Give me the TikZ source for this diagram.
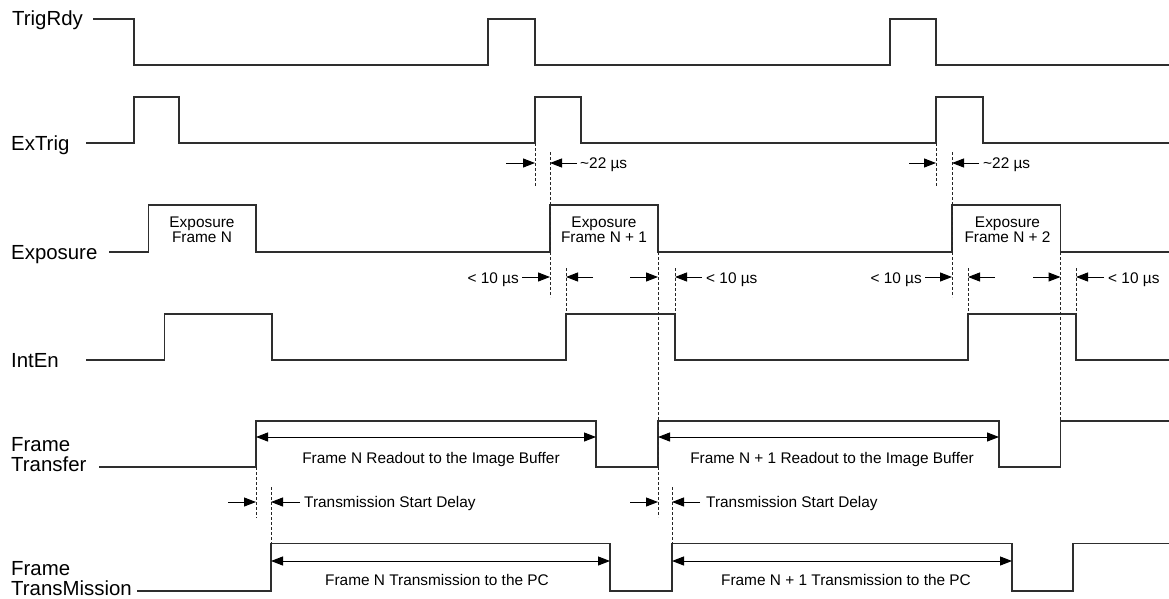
\documentclass[tikz,border=0pt]{standalone}
\usepackage{fontspec}
\setmainfont{Liberation Sans}
\usetikzlibrary{arrows.meta}
\tikzset{
	sig/.style={line width=1.4pt, color=black!82},
	guide/.style={line width=0.8pt, dash pattern=on 3pt off 2pt, color=black!85},
	dim/.style={line width=1pt, -{Triangle[length=12pt,width=9pt]}},
	span/.style={line width=1pt, {Triangle[length=12pt,width=9pt]}-{Triangle[length=12pt,width=9pt]}},
	siglabel/.style={inner sep=0pt, font=\fontsize{20.4}{20}\selectfont, align=left},
	small/.style={inner sep=0pt, font=\fontsize{15.4}{15}\selectfont, align=center}
}
\begin{document}
\begin{tikzpicture}[x=1pt,y=-1pt]
			%%%%% START %%%%%
			\useasboundingbox (0,0) rectangle (1169,599);
			
			% signal names
			\node[siglabel, anchor=base west] (trigrdy) at (12,26) {TrigRdy};
			\node[siglabel, anchor=base west] (extrig) at (11,150) {ExTrig};
			\node[siglabel, anchor=base west] (exposure) at (11,259) {Exposure};
			\node[siglabel, anchor=base west] (inten) at (11,367) {IntEn};
			\node[siglabel, anchor=north west] (ftransfer) at (11,437.5) {Frame\\Transfer};
			\node[siglabel, anchor=north west] (ftransmission) at (11,561.5) {Frame\\TransMission};
			
			% waveforms
			\draw[sig] (93,19) -| (134,65) -| (488,19) -| (535,65) -| (890,19) -| (936,65) -- (1169,65);
			\draw[sig] (86,143) -| (134,97) -| (179,143) -| (535,97) -| (581,143) -| (936,97) -| (983,143) -- (1169,143);
			\draw[sig] (109,252) -| (148.5,205) -| (256,252) -| (550,205) -| (658,252) -| (952,205) -| (1060.5,252) -- (1169,252);
			\draw[sig] (86,360) -| (164.6,314) -| (272,360) -| (566,314) -| (675,360) -| (968,314) -| (1076,360) -- (1169,360);
			\draw[sig] (99,467) -| (256,421) -| (596,467) -| (658,421) -| (999,467) -| (1060.5,421) -- (1169,421);
			\draw[sig] (137,591) -| (271,543.5) -| (610,591) -| (672,543.5) -| (1012,591) -| (1073,543.5) -- (1169,543.5);
			
			% exposure boxes
			\node[small, anchor=north] (expN) at (202,216.3) {Exposure\\Frame N};
			\node[small, anchor=north] (expNa) at (604,216.3) {Exposure\\Frame N + 1};
			\node[small, anchor=north] (expNb) at (1007.5,216.3) {Exposure\\Frame N + 2};
			
			% dashed guides
			\draw[guide] (535,143) -- (535,187);
			\draw[guide] (550,152) -- (550,297);
			\draw[guide] (936,143) -- (936,187);
			\draw[guide] (952,152) -- (952,297);
			\draw[guide] (566,268) -- (566,314);
			\draw[guide] (658,252) -- (658,517);
			\draw[guide] (675,268) -- (675,314);
			\draw[guide] (968,268) -- (968,314);
			\draw[guide] (1060.5,252) -- (1060.5,421);
			\draw[guide] (1076,268) -- (1076,314);
			\draw[guide] (256,467) -- (256,518);
			\draw[guide] (271,487) -- (271,543.5);
			\draw[guide] (672,487) -- (672,543.5);
			
			% ~22 us
			\draw[dim] (506,163) -- (535,163);
			\draw[dim] (577,163) -- (550,163);
			\node[small, anchor=base west] (dlyA) at (580,168) {\textasciitilde22 µs};
			\draw[dim] (909,163) -- (936,163);
			\draw[dim] (979,163) -- (952,163);
			\node[small, anchor=base west] (dlyB) at (983,168) {\textasciitilde22 µs};
			
			% < 10 us
			\draw[dim] (522,277) -- (550,277);
			\node[small, anchor=base east] (ltA) at (519,283) {< 10 µs};
			\draw[dim] (593,277) -- (566,277);
			\draw[dim] (630,277) -- (658,277);
			\draw[dim] (702,277) -- (675,277);
			\node[small, anchor=base west] (ltB) at (706,283) {< 10 µs};
			\draw[dim] (925,277) -- (952,277);
			\node[small, anchor=base east] (ltC) at (922,283) {< 10 µs};
			\draw[dim] (995,277) -- (968,277);
			\draw[dim] (1033,277) -- (1060.5,277);
			\draw[dim] (1104,277) -- (1076,277);
			\node[small, anchor=base west] (ltD) at (1108,283) {< 10 µs};
			
			% readout and transmission
			\draw[span] (256,437) -- (596,437);
			\node[small, anchor=base] (readN) at (431,463) {Frame N Readout to the Image Buffer};
			\draw[span] (658,437) -- (999,437);
			\node[small, anchor=base] (readNa) at (832,463) {Frame N + 1 Readout to the Image Buffer};
			
			\draw[dim] (228,502) -- (256,502);
			\draw[dim] (300,502) -- (271,502);
			\node[small, anchor=base west] (startA) at (304,507) {Transmission Start Delay};
			\draw[dim] (630,502) -- (658,502);
			\draw[dim] (700,502) -- (672,502);
			\node[small, anchor=base west] (startB) at (706,507) {Transmission Start Delay};
			
			\draw[span] (271,561) -- (610,561);
			\node[small, anchor=base] (txN) at (437,585) {Frame N Transmission to the PC};
			\draw[span] (672,561) -- (1012,561);
			\node[small, anchor=base] (txNa) at (846,585) {Frame N + 1 Transmission to the PC};
			
			%%%%% END %%%%%
\end{tikzpicture}
\end{document}
